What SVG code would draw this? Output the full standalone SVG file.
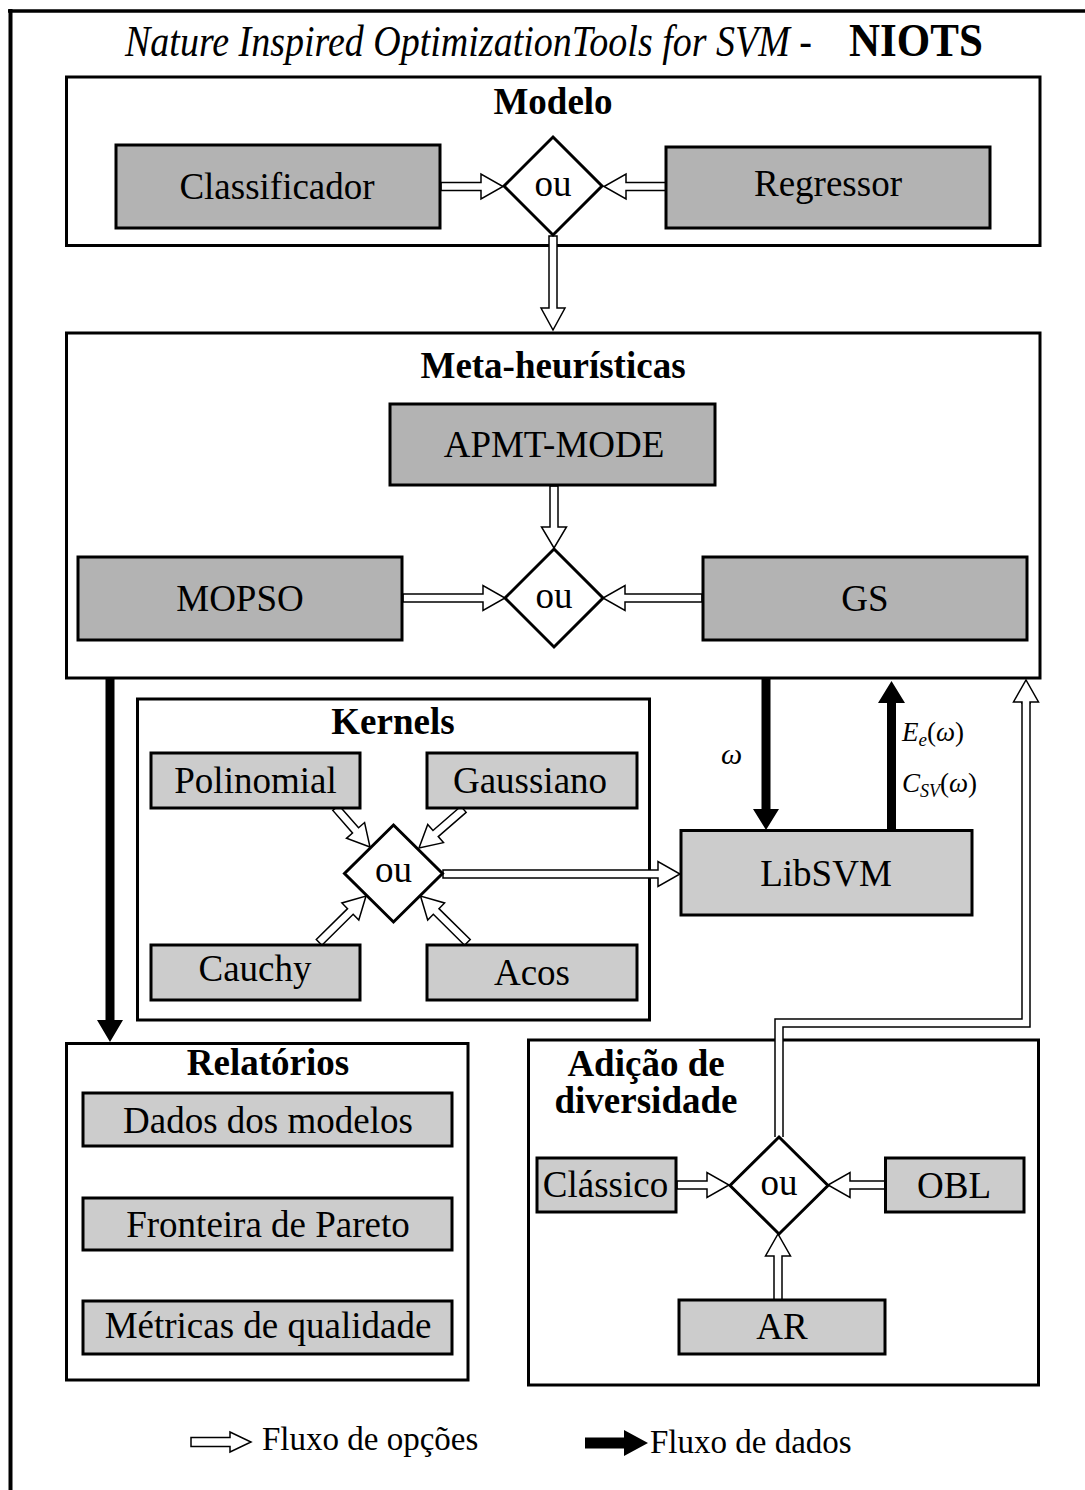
<svg xmlns="http://www.w3.org/2000/svg" width="1085" height="1490" viewBox="0 0 1085 1490">
<style>
.t{font-family:"Liberation Serif","Times New Roman",serif;fill:#000}
.lbl{font-size:37px;text-anchor:middle}
.ttl{font-size:37px;font-weight:bold;text-anchor:middle}
.grp{fill:#fff;stroke:#000;stroke-width:3}
.dk{fill:#b3b3b3;stroke:#000;stroke-width:3}
.lt{fill:#cccccc;stroke:#000;stroke-width:3}
.dia{fill:#fff;stroke:#000;stroke-width:3;stroke-linejoin:miter}
.ho{fill:#fff;stroke:#000;stroke-width:1.5;stroke-linejoin:miter}
.bk{fill:#000;stroke:none}
.m{font-family:"Liberation Serif","Times New Roman",serif;font-style:italic;fill:#000}
</style>
<rect width="1085" height="1490" fill="#fff"/>
<!-- outer frame -->
<g id="frame">
<line x1="8" y1="11" x2="1085" y2="11" stroke="#000" stroke-width="3.5"/>
<line x1="10.5" y1="9" x2="10.5" y2="1490" stroke="#000" stroke-width="4"/>
</g>
<g id="title">
<g transform="translate(125,56) scale(1,1.15)">
<text class="t" x="0" y="0" font-size="38" font-style="italic">Nature Inspired OptimizationTools for SVM -</text>
</g>
<g transform="translate(849,56) scale(1,1.1)">
<text class="t" x="0" y="0" font-size="43" font-weight="bold">NIOTS</text>
</g>
</g>
<!-- group containers -->
<g id="modelo">
<rect class="grp" x="66.5" y="77" width="973.5" height="168.5"/>
<text class="t ttl" x="553" y="114">Modelo</text>
</g>
<g id="meta">
<rect class="grp" x="66.5" y="333" width="973.5" height="345"/>
<text class="t ttl" x="553" y="378">Meta-heurísticas</text>
</g>
<g id="kernels">
<rect class="grp" x="137.5" y="699" width="512" height="321"/>
<text class="t ttl" x="393" y="734">Kernels</text>
</g>
<g id="relatorios">
<rect class="grp" x="66.5" y="1043.5" width="401.5" height="336.5"/>
<text class="t ttl" x="268" y="1075">Relatórios</text>
</g>
<g id="adicao">
<rect class="grp" x="528.5" y="1040" width="510" height="345"/>
<text class="t ttl" x="646" y="1076">Adição de</text>
<text class="t ttl" x="646" y="1113">diversidade</text>
</g>
<!-- connectors -->
<g id="connectors">
<!-- Modelo -->
<path class="ho" d="M441,182.5 H481 V174 L503,186.5 L481,199 V190.5 H441 Z"/>
<path class="ho" d="M666,182.5 H626 V174 L604,186.5 L626,199 V190.5 H666 Z"/>
<path class="ho" d="M549,236 V308 H541 L553,330 L565,308 H557 V236 Z"/>
<!-- Meta -->
<path class="ho" d="M550,486 V527 H541.5 L554,548 L566.5,527 H558 V486 Z"/>
<path class="ho" d="M403,594 H483 V585.5 L505,598 L483,610.5 V602 H403 Z"/>
<path class="ho" d="M702,594 H625 V585.5 L603,598 L625,610.5 V602 H702 Z"/>
<!-- Kernels -->
<path class="ho" transform="translate(370,847) rotate(48.9)" d="M-52,-4 H-22 V-12 L0,0 L-22,12 V4 H-52 Z"/>
<path class="ho" transform="translate(419,848) rotate(139)" d="M-59,-4 H-22 V-12 L0,0 L-22,12 V4 H-59 Z"/>
<path class="ho" transform="translate(366,896) rotate(-44.7)" d="M-66,-4 H-22 V-12 L0,0 L-22,12 V4 H-66 Z"/>
<path class="ho" transform="translate(420.5,896) rotate(-135.3)" d="M-66,-4 H-22 V-12 L0,0 L-22,12 V4 H-66 Z"/>
<path class="ho" d="M443,870 H658 V861.5 L680,874 L658,886.5 V878 H443 Z"/>
<!-- data arrows -->
<path class="bk" d="M105.5,679 V1020 H97 L110,1042 L123,1020 H114.5 V679 Z"/>
<path class="bk" d="M761.5,679 V809 H753 L766,830 L779,809 H770.5 V679 Z"/>
<path class="bk" d="M887,830 V703 H878 L891.5,681 L905,703 H896 V830 Z"/>
<!-- diversity feedback -->
<path d="M779,1137 V1023 H1026 V702" fill="none" stroke="#000" stroke-width="9.5" stroke-linejoin="miter"/>
<path d="M779,1138 V1023 H1026 V701" fill="none" stroke="#fff" stroke-width="6.5" stroke-linejoin="miter"/>
<path class="ho" d="M1030,704 V702 H1038.5 L1026,680 L1013.5,702 H1022 V704"/>
<!-- Adicao -->
<path class="ho" d="M677,1181 H707 V1172.5 L729,1185 L707,1197.5 V1189 H677 Z"/>
<path class="ho" d="M885,1181 H850 V1172.5 L828,1185 L850,1197.5 V1189 H885 Z"/>
<path class="ho" d="M774,1300 V1256 H765.5 L778,1234 L790.5,1256 H782 V1300 Z"/>
</g>
<!-- nodes -->
<g id="classificador"><rect class="dk" x="116" y="145" width="324" height="83"/><text class="t lbl" x="277" y="199">Classificador</text></g>
<g id="regressor"><rect class="dk" x="666" y="147" width="324" height="81"/><text class="t lbl" x="828" y="196">Regressor</text></g>
<g id="ou1"><polygon class="dia" points="553,137 602,186 553,235 504,186"/><text class="t lbl" x="553" y="196">ou</text></g>
<g id="apmt"><rect class="dk" x="390" y="404" width="325" height="81"/><text class="t lbl" x="554" y="457">APMT-MODE</text></g>
<g id="mopso"><rect class="dk" x="78" y="557" width="324" height="83"/><text class="t lbl" x="240" y="611">MOPSO</text></g>
<g id="gs"><rect class="dk" x="703" y="557" width="324" height="83"/><text class="t lbl" x="865" y="611">GS</text></g>
<g id="ou2"><polygon class="dia" points="554,549 603,598 554,647 505,598"/><text class="t lbl" x="554" y="608">ou</text></g>
<g id="polinomial"><rect class="lt" x="151" y="753" width="209" height="55"/><text class="t lbl" x="255.5" y="793">Polinomial</text></g>
<g id="gaussiano"><rect class="lt" x="427" y="753" width="210" height="55"/><text class="t lbl" x="530" y="793">Gaussiano</text></g>
<g id="cauchy"><rect class="lt" x="151" y="945" width="209" height="55"/><text class="t lbl" x="255" y="981">Cauchy</text></g>
<g id="acos"><rect class="lt" x="427" y="945" width="210" height="55"/><text class="t lbl" x="532" y="985">Acos</text></g>
<g id="ou3"><polygon class="dia" points="393.5,825 442.5,873.5 393.5,922 344.5,873.5"/><text class="t lbl" x="393.5" y="882">ou</text></g>
<g id="libsvm"><rect class="lt" x="681" y="830.5" width="291" height="84.5"/><text class="t lbl" x="826" y="886">LibSVM</text></g>
<g id="dados"><rect class="lt" x="83" y="1093" width="369" height="53"/><text class="t lbl" x="268" y="1133">Dados dos modelos</text></g>
<g id="fronteira"><rect class="lt" x="83" y="1198" width="369" height="52"/><text class="t lbl" x="268" y="1237">Fronteira de Pareto</text></g>
<g id="metricas"><rect class="lt" x="83" y="1301" width="369" height="53"/><text class="t lbl" x="268" y="1338">Métricas de qualidade</text></g>
<g id="classico"><rect class="lt" x="537" y="1158" width="139" height="54"/><text class="t lbl" x="605.5" y="1197">Clássico</text></g>
<g id="obl"><rect class="lt" x="885.5" y="1158" width="138.5" height="54"/><text class="t lbl" x="954" y="1198">OBL</text></g>
<g id="ar"><rect class="lt" x="679" y="1300" width="206" height="54"/><text class="t lbl" x="782" y="1339">AR</text></g>
<g id="ou4"><polygon class="dia" points="779,1137 828,1185.5 779,1234 730,1185.5"/><text class="t lbl" x="779" y="1195">ou</text></g>
<!-- math labels -->
<g id="math">
<text class="m" x="721" y="764" font-size="30">ω</text>
<text class="m" x="902" y="741" font-size="27">E<tspan font-size="19" dy="5">e</tspan><tspan font-style="normal" dy="-5">(</tspan>ω<tspan font-style="normal">)</tspan></text>
<text class="m" x="902" y="792" font-size="27">C<tspan font-size="18" dy="5">SV</tspan><tspan font-style="normal" dy="-5">(</tspan>ω<tspan font-style="normal">)</tspan></text>
</g>
<!-- legend -->
<g id="legend">
<path class="ho" d="M191,1437.5 H230 V1432 L251,1442 L230,1452 V1446.5 H191 Z"/>
<text class="t" x="262" y="1450" font-size="33">Fluxo de opções</text>
<path class="bk" d="M585,1437.5 H624 V1430 L648,1443 L624,1456 V1448.5 H585 Z"/>
<text class="t" x="650" y="1453" font-size="33">Fluxo de dados</text>
</g>
</svg>
